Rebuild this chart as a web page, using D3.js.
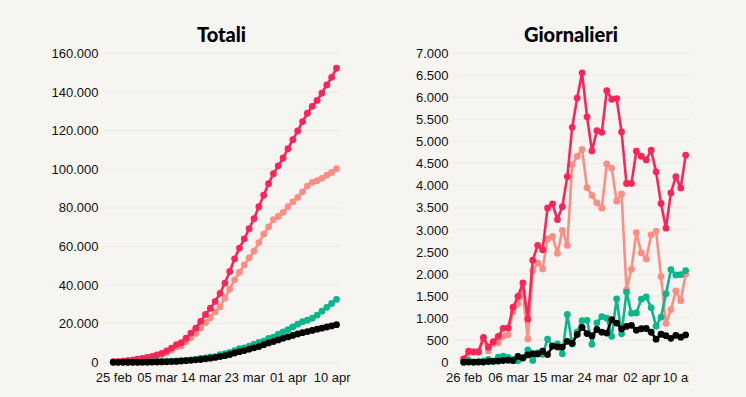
<!DOCTYPE html>
<html>
<head>
<meta charset="utf-8">
<script src="https://cdn.jsdelivr.net/npm/d3@7"></script>
<style>
  body { margin: 0; background: #f7f5f2; font-family: Lato, "Open Sans", sans-serif; }
  #wrap { width: 746px; height: 397px; display: flex; }
  svg { display: block; overflow: hidden; }
  .title { font-size: 20px; font-weight: 900; fill: #000; }
  .tick text { font-size: 13px; fill: #111; }
  .grid line { stroke: #ebe9e5; stroke-width: 1; }
  .serie { fill: none; stroke-width: 2.6; stroke-linejoin: round; }
</style>
</head>
<body>
<div id="wrap">
  <svg id="totali" width="373" height="397"></svg>
  <svg id="giornalieri" width="316" height="397"></svg>
</div>
<script>
// colori delle serie
var colori = {
  casi: "#ff2457",
  positivi: "#ff8d84",
  guariti: "#08b88c",
  morti: "#000000"
};

// totali: dal 25 feb all'11 apr
var totaliInizio = "2020-02-25", totaliFine = "2020-04-11";
var totCasi = [322, 400, 650, 888, 1128, 1694, 2036, 2502, 3089, 3858, 4636, 5883, 7375, 9172, 10149,
  12462, 15113, 17660, 21157, 24747, 27980, 31506, 35713, 41035, 47021, 53578, 59138, 63927, 69176,
  74386, 80539, 86498, 92472, 97689, 101739, 105792, 110574, 115242, 119827, 124632, 128948, 132547,
  135586, 139422, 143626, 147577, 152271];
var totPositivi = [311, 385, 588, 821, 1049, 1577, 1835, 2263, 2706, 3296, 3916, 5061, 6387, 7985, 8514,
  10590, 12839, 14955, 17750, 20603, 23073, 26062, 28710, 33190, 37860, 42681, 46638, 50418, 54030,
  57521, 62013, 66414, 70065, 73880, 75528, 77635, 80572, 83049, 85388, 88274, 91246, 93187, 94067,
  95262, 96877, 98273, 100269];
var totGuariti = [1, 3, 45, 46, 50, 83, 149, 160, 276, 414, 523, 589, 622, 724, 1004, 1045, 1258, 1439,
  1966, 2335, 2749, 2941, 4025, 4440, 5129, 6072, 7024, 7432, 8326, 9362, 10361, 10950, 12384, 13030,
  14620, 15729, 16847, 18278, 19758, 20996, 21815, 22837, 24392, 26491, 28470, 30455, 32534];
var totMorti = [10, 12, 17, 21, 29, 34, 52, 79, 107, 148, 197, 233, 366, 463, 631, 827, 1016, 1266, 1441,
  1809, 2158, 2503, 2978, 3405, 4032, 4825, 5476, 6077, 6820, 7503, 8165, 9134, 10023, 10779, 11591,
  12428, 13155, 13915, 14681, 15362, 15887, 16523, 17127, 17669, 18279, 18849, 19468];

// giornalieri: dal 26 feb all'11 apr
var giornInizio = "2020-02-26", giornFine = "2020-04-11";
var nuoviCasi = [78, 250, 238, 240, 566, 342, 466, 587, 769, 778, 1247, 1492, 1797, 977, 2313, 2651,
  2547, 3497, 3590, 3233, 3526, 4207, 5322, 5986, 6557, 5560, 4789, 5249, 5210, 6153, 5959, 5974,
  5217, 4050, 4053, 4782, 4668, 4585, 4805, 4316, 3599, 3039, 3836, 4204, 3951, 4694];
var nuoviPositivi = [74, 203, 233, 228, 528, 258, 428, 443, 590, 620, 1145, 1326, 1598, 529, 2076, 2249,
  2116, 2795, 2853, 2470, 2989, 2648, 4480, 4670, 4821, 3957, 3780, 3612, 3491, 4492, 4401, 3651,
  3815, 1648, 2107, 2937, 2477, 2339, 2886, 2972, 1941, 880, 1195, 1615, 1396, 1996];
var nuoviGuariti = [2, 42, 1, 4, 33, 66, 11, 116, 138, 109, 66, 33, 102, 280, 41, 213, 181, 527, 369,
  414, 192, 1084, 415, 689, 943, 952, 408, 894, 1036, 999, 589, 1434, 646, 1590, 1109, 1118, 1431,
  1480, 1238, 819, 1022, 1555, 2099, 1979, 1985, 2079];
var nuoviMorti = [2, 5, 4, 8, 5, 18, 27, 28, 41, 49, 36, 133, 97, 168, 196, 189, 250, 175, 368, 349,
  345, 475, 427, 627, 793, 651, 601, 743, 683, 662, 969, 889, 756, 812, 837, 727, 760, 766, 681, 525,
  636, 604, 542, 610, 570, 619];

// etichette asse x
var tickTotali = ["2020-02-25", "2020-03-05", "2020-03-14", "2020-03-23", "2020-04-01", "2020-04-10"];
var tickGiorn = ["2020-02-26", "2020-03-06", "2020-03-15", "2020-03-24", "2020-04-02", "2020-04-10"];
var tickYTotali = [0, 20000, 40000, 60000, 80000, 100000, 120000, 140000, 160000];
var tickYGiorn = [0, 500, 1000, 1500, 2000, 2500, 3000, 3500, 4000, 4500, 5000, 5500, 6000, 6500, 7000];

var parse = d3.timeParse("%Y-%m-%d");
var mesi = ["gen", "feb", "mar", "apr", "mag", "giu", "lug", "ago", "set", "ott", "nov", "dic"];
var fmtData = function (d) { return d3.timeFormat("%d")(d) + " " + mesi[d.getMonth()]; };
var fmtNum = d3.formatLocale({ decimal: ",", thousands: ".", grouping: [3], currency: ["€", ""] }).format(",d");

function drawChart(cfg) {
  var svg = d3.select(cfg.el);
  var dates = d3.timeDay.range(parse(cfg.inizio), d3.timeDay.offset(parse(cfg.fine), 1));

  var x = d3.scaleTime()
    .domain([dates[0], dates[dates.length - 1]])
    .range(cfg.xRange);
  var y = d3.scaleLinear().domain([0, cfg.yMax]).range([362.3, 53.3]);

  // griglia orizzontale
  svg.append("g").attr("class", "grid")
    .selectAll("line").data(cfg.yTicks).enter().append("line")
    .attr("x1", cfg.gridX[0]).attr("x2", cfg.gridX[1])
    .attr("y1", function (d) { return y(d); })
    .attr("y2", function (d) { return y(d); });

  var yAxis = svg.append("g")
    .attr("transform", "translate(" + cfg.gridX[0] + ",0)")
    .call(d3.axisLeft(y).tickValues(cfg.yTicks).tickFormat(fmtNum).tickSize(0).tickPadding(4.5));
  yAxis.select(".domain").remove();

  var xAxis = svg.append("g")
    .attr("transform", "translate(0,372)")
    .call(d3.axisBottom(x).tickValues(cfg.xTicks.map(parse)).tickFormat(fmtData).tickSize(0).tickPadding(1));
  xAxis.select(".domain").remove();

  svg.append("text").attr("class", "title")
    .attr("x", (cfg.gridX[0] + cfg.gridX[1]) / 2).attr("y", 42)
    .attr("text-anchor", "middle").text(cfg.titolo);

  var line = d3.line()
    .x(function (d, i) { return x(dates[i]); })
    .y(function (d) { return y(d); });

  cfg.serie.forEach(function (s) {
    var g = svg.append("g");
    g.append("path").attr("class", "serie").attr("d", line(s.values)).attr("stroke", s.color);
    g.selectAll("circle").data(s.values).enter().append("circle")
      .attr("cx", function (d, i) { return x(dates[i]); })
      .attr("cy", function (d) { return y(d); })
      .attr("r", 3.4)
      .attr("fill", s.color);
  });
}

drawChart({
  el: "#totali",
  titolo: "Totali",
  inizio: totaliInizio, fine: totaliFine,
  xRange: [113.3, 336.5],
  gridX: [103, 340],
  yMax: 160000,
  yTicks: tickYTotali,
  xTicks: tickTotali,
  serie: [
    { values: totPositivi, color: colori.positivi },
    { values: totCasi, color: colori.casi },
    { values: totGuariti, color: colori.guariti },
    { values: totMorti, color: colori.morti }
  ]
});

drawChart({
  el: "#giornalieri",
  titolo: "Giornalieri",
  inizio: giornInizio, fine: giornFine,
  xRange: [90.7, 312.7],
  gridX: [80, 316],
  yMax: 7000,
  yTicks: tickYGiorn,
  xTicks: tickGiorn,
  serie: [
    { values: nuoviPositivi, color: colori.positivi },
    { values: nuoviCasi, color: colori.casi },
    { values: nuoviGuariti, color: colori.guariti },
    { values: nuoviMorti, color: colori.morti }
  ]
});
</script>
</body>
</html>
